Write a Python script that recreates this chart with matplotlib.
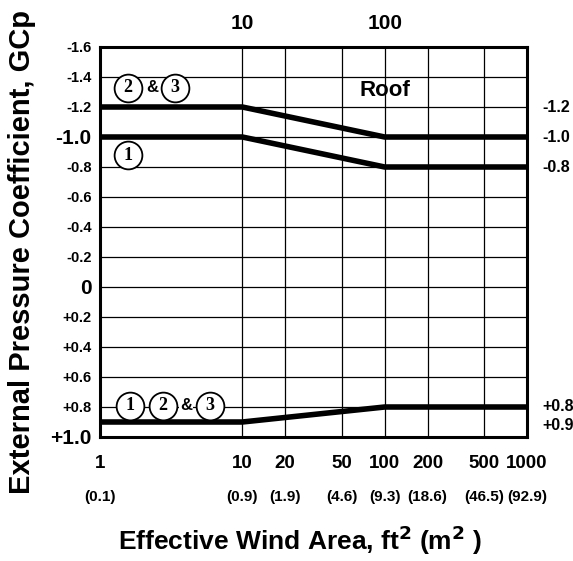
import matplotlib.pyplot as plt
import matplotlib.transforms as mtransforms

plt.rcParams['font.family'] = ['Liberation Sans', 'DejaVu Sans']
plt.rcParams['font.weight'] = 'bold'

# effective wind area (ft^2) breakpoints and GCp values
area = [1, 10, 100, 1000]
zone23_neg = [-1.2, -1.2, -1.0, -1.0]
zone1_neg = [-1.0, -1.0, -0.8, -0.8]
all_pos = [0.9, 0.9, 0.8, 0.8]

xticks = [1, 10, 20, 50, 100, 200, 500, 1000]
metric = ["(0.1)", "(0.9)", "(1.9)", "(4.6)", "(9.3)", "(18.6)", "(46.5)", "(92.9)"]
yticks = [-1.6, -1.4, -1.2, -1.0, -0.8, -0.6, -0.4, -0.2, 0, 0.2, 0.4, 0.6, 0.8, 1.0]
ylabels = ["-1.6", "-1.4", "-1.2", "-1.0", "-0.8", "-0.6", "-0.4", "-0.2", "0",
           "+0.2", "+0.4", "+0.6", "+0.8", "+1.0"]
right_vals = [-1.2, -1.0, -0.8, 0.8, 0.9]
right_labels = ["-1.2", "-1.0", "-0.8", "+0.8", "+0.9"]

fig = plt.figure(figsize=(5.73, 5.61), dpi=100)
ax = fig.add_axes([100/573, 1-437/561, 427/573, 390/561])

ax.set_xscale('log')
ax.set_xlim(1, 1000)
ax.set_ylim(1.0, -1.6)

for x in xticks:
    ax.axvline(x, color='black', lw=0.9, zorder=1)
for y in yticks:
    ax.axhline(y, color='black', lw=0.9, zorder=1)

for vals in [zone23_neg, zone1_neg, all_pos]:
    ax.plot(area, vals, color='black', lw=4, solid_capstyle='butt', zorder=3)

for s in ax.spines.values():
    s.set_linewidth(2.2)

ax.set_xticks(xticks)
ax.set_xticklabels([str(v) for v in xticks], fontsize=13.5)
ax.xaxis.set_minor_locator(plt.NullLocator())
ax.tick_params(axis='x', length=0, pad=13)
ax.set_yticks(yticks)
ax.set_yticklabels(ylabels, fontsize=10.5)
for lab in ax.get_yticklabels():
    if lab.get_text() in ("-1.0", "0", "+1.0"):
        lab.set_fontsize(15)
ax.tick_params(axis='y', length=0, pad=6)

top = ax.secondary_xaxis('top')
top.set_xticks([10, 100])
top.set_xticklabels(["10", "100"], fontsize=15)
top.xaxis.set_minor_locator(plt.NullLocator())
top.tick_params(length=0, pad=10)
top.spines['top'].set_visible(False)

tb = mtransforms.blended_transform_factory(ax.transData, ax.transAxes)
for x, m in zip(xticks, metric):
    ax.text(x, -0.154, m, transform=tb, ha='center', va='center', fontsize=11)

tr = mtransforms.blended_transform_factory(ax.transAxes, ax.transData)
offs = [0, 0, 0, -0.005, 0.02]
for v, lab, o in zip(right_vals, right_labels, offs):
    ax.text(1.035, v + o, lab, transform=tr, ha='left', va='center', fontsize=11.5)

ax.text(100, -1.31, "Roof", ha='center', va='center', fontsize=16, zorder=5)


def circ(x, y, s):
    ax.plot([x], [y], 'o', ms=20, mfc='white', mec='black', mew=1.3, zorder=6)
    ax.text(x, y, s, ha='center', va='center', fontsize=13, zorder=7,
            family='Liberation Serif', weight='bold')


circ(1.57, -1.33, "2")
ax.text(2.32, -1.33, "&", ha='center', va='center', fontsize=12, zorder=7)
circ(3.37, -1.33, "3")
circ(1.57, -0.88, "1")
circ(1.62, 0.79, "1")
circ(2.77, 0.79, "2")
ax.text(4.02, 0.79, "&", ha='center', va='center', fontsize=12, zorder=7,
        bbox=dict(fc='white', ec='none', pad=0.5))
circ(5.93, 0.79, "3")

fig.text(22/573, 1-252/561, "External Pressure Coefficient, GCp", rotation=90,
         ha='center', va='center', fontsize=21)
fig.text(300/573, 1-540/561, r"Effective Wind Area, ft$^{\mathbf{2}}$ (m$^{\mathbf{2}}$ )",
         ha='center', va='center', fontsize=19)

fig.savefig('out.png', dpi=100)
